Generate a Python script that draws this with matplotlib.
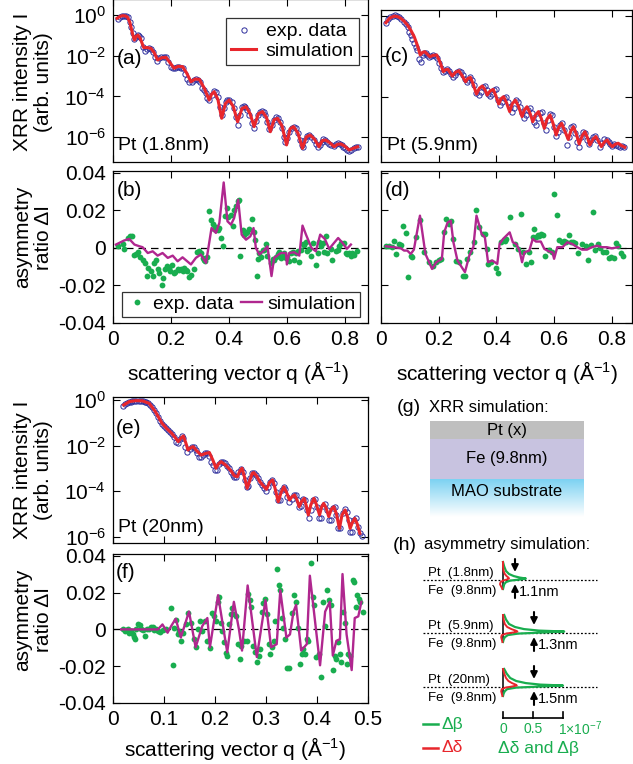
import numpy as np
import matplotlib
matplotlib.use("Agg")
import matplotlib.pyplot as plt
from matplotlib.colors import LinearSegmentedColormap
from matplotlib.ticker import FixedLocator, NullLocator, FuncFormatter

plt.rcParams['font.family'] = ['Liberation Sans', 'DejaVu Sans']
plt.rcParams['mathtext.fontset'] = 'custom'
plt.rcParams['mathtext.rm'] = 'Liberation Sans'
plt.rcParams['mathtext.it'] = 'Liberation Sans:italic'
plt.rcParams['mathtext.bf'] = 'Liberation Sans:bold'
plt.rcParams['axes.unicode_minus'] = False

# ---- XRR data: (q in 1/A, log10 intensity) ----
exp_a = [(0.016,-0.20),(0.023,-0.08),(0.030,-0.03),(0.037,-0.03),(0.044,-0.05),(0.051,-0.11),(0.057,-0.33),(0.062,-0.57),(0.068,-0.90),(0.074,-1.20),
         (0.079,-1.10),(0.085,-0.98),(0.091,-1.03),(0.097,-1.15),(0.103,-1.59),(0.110,-1.75),(0.117,-1.69),(0.124,-1.61),(0.131,-1.69),(0.138,-1.80),
         (0.145,-2.08),(0.152,-2.25),(0.159,-2.13),(0.166,-2.08),(0.175,-2.05),(0.183,-2.08),(0.191,-2.30),(0.200,-2.54),(0.207,-2.62),(0.214,-2.62),
         (0.221,-2.54),(0.228,-2.54),(0.234,-2.59),(0.241,-2.62),(0.248,-2.90),(0.255,-3.16),(0.263,-3.28),(0.271,-3.28),(0.278,-3.20),(0.285,-3.15),
         (0.292,-3.20),(0.299,-3.28),(0.306,-3.61),(0.313,-3.69),(0.320,-3.85),(0.326,-4.10),(0.333,-4.18),(0.340,-3.93),(0.347,-3.72),(0.354,-3.77),
         (0.361,-4.02),(0.368,-4.51),(0.375,-4.92),(0.382,-4.59),(0.389,-4.26),(0.395,-4.18),(0.402,-4.18),(0.409,-4.26),(0.416,-4.59),(0.423,-5.00),
         (0.430,-5.41),(0.437,-4.92),(0.444,-4.54),(0.451,-4.48),(0.457,-4.51),(0.464,-4.67),(0.471,-4.92),(0.478,-5.33),(0.485,-5.54),(0.492,-5.20),
         (0.499,-4.92),(0.506,-4.75),(0.513,-4.70),(0.520,-4.75),(0.526,-4.92),(0.533,-5.25),(0.540,-5.62),(0.547,-5.41),(0.554,-5.16),(0.561,-5.03),
         (0.568,-5.08),(0.575,-5.25),(0.582,-5.57),(0.589,-5.98),(0.595,-6.23),(0.602,-6.07),(0.609,-5.74),(0.616,-5.57),(0.623,-5.49),(0.630,-5.57),
         (0.637,-5.82),(0.644,-6.15),(0.651,-6.39),(0.657,-6.48),(0.664,-6.15),(0.671,-5.95),(0.678,-5.90),(0.685,-5.98),(0.692,-6.15),(0.699,-6.34),
         (0.706,-6.48),(0.713,-6.39),(0.720,-6.23),(0.726,-6.11),(0.733,-6.15),(0.740,-6.23),(0.747,-6.34),(0.754,-6.39),(0.761,-6.44),(0.768,-6.34),
         (0.775,-6.31),(0.782,-6.34),(0.789,-6.39),(0.795,-6.48),(0.802,-6.56),(0.809,-6.64),(0.816,-6.67),(0.823,-6.64),(0.830,-6.56),(0.837,-6.51),
         (0.844,-6.51)]
sim_a = [(0.014,-0.16),(0.025,-0.06),(0.033,-0.03),(0.042,-0.04),(0.050,-0.10),(0.058,-0.35),(0.068,-0.95),(0.074,-1.23),(0.080,-1.05),(0.086,-0.98),
         (0.094,-1.15),(0.106,-1.60),(0.118,-1.60),(0.131,-1.64),(0.142,-1.85),(0.154,-2.21),(0.168,-2.10),(0.183,-2.08),(0.197,-2.35),(0.211,-2.62),
         (0.225,-2.52),(0.240,-2.54),(0.254,-2.85),(0.269,-3.28),(0.283,-3.15),(0.298,-3.16),(0.315,-3.60),(0.332,-4.18),(0.340,-3.90),(0.349,-3.77),
         (0.362,-4.15),(0.375,-5.08),(0.388,-4.35),(0.401,-4.18),(0.415,-4.50),(0.430,-5.25),(0.445,-4.60),(0.459,-4.51),(0.473,-4.85),(0.487,-5.49),
         (0.502,-4.85),(0.516,-4.75),(0.530,-5.05),(0.543,-5.74),(0.556,-5.15),(0.568,-5.08),(0.583,-5.45),(0.599,-6.39),(0.611,-5.60),(0.623,-5.49),
         (0.638,-5.80),(0.654,-6.56),(0.667,-6.00),(0.680,-5.90),(0.695,-6.10),(0.711,-6.48),(0.722,-6.18),(0.734,-6.15),(0.748,-6.28),(0.763,-6.48),
         (0.775,-6.36),(0.786,-6.34),(0.800,-6.45),(0.815,-6.64),(0.830,-6.55),(0.844,-6.48)]

exp_c = [(0.017,-0.36),(0.025,-0.17),(0.032,-0.03),(0.040,0.00),(0.048,0.03),(0.055,0.00),(0.063,-0.07),(0.071,-0.17),(0.078,-0.28),(0.086,-0.40),
         (0.092,-0.53),(0.098,-0.78),(0.103,-0.94),(0.109,-1.16),(0.115,-1.32),(0.121,-1.52),(0.126,-1.69),(0.132,-2.15),(0.138,-2.26),(0.144,-1.93),
         (0.149,-1.82),(0.155,-1.85),(0.161,-1.93),(0.167,-2.02),(0.172,-1.98),(0.180,-1.93),(0.187,-1.98),(0.195,-2.10),(0.201,-2.35),(0.207,-2.60),
         (0.214,-2.76),(0.221,-2.73),(0.228,-2.64),(0.234,-2.71),(0.241,-2.88),(0.248,-3.01),(0.255,-2.93),(0.262,-2.76),(0.269,-2.71),(0.276,-2.76),
         (0.283,-2.93),(0.290,-3.14),(0.297,-3.26),(0.303,-3.17),(0.310,-3.04),(0.317,-3.17),(0.324,-3.42),(0.331,-3.80),(0.338,-3.92),(0.345,-3.75),
         (0.352,-3.54),(0.359,-3.47),(0.366,-3.67),(0.372,-3.87),(0.379,-3.97),(0.386,-3.87),(0.393,-3.67),(0.400,-3.64),(0.407,-4.17),(0.414,-4.41),
         (0.421,-4.25),(0.428,-4.08),(0.434,-4.00),(0.441,-4.25),(0.448,-4.50),(0.455,-4.74),(0.462,-4.58),(0.469,-4.17),(0.476,-4.25),(0.483,-4.50),
         (0.490,-4.83),(0.497,-5.07),(0.503,-4.91),(0.510,-4.66),(0.517,-4.58),(0.524,-4.83),(0.531,-5.24),(0.538,-5.40),(0.545,-5.07),(0.552,-4.83),
         (0.559,-4.74),(0.566,-5.32),(0.572,-5.65),(0.579,-5.16),(0.586,-4.86),(0.593,-4.91),(0.600,-5.49),(0.607,-5.95),(0.614,-5.74),(0.621,-5.40),
         (0.628,-5.29),(0.634,-5.65),(0.646,-6.40),(0.653,-5.98),(0.660,-5.52),(0.667,-5.45),(0.674,-5.82),(0.680,-6.23),(0.687,-6.48),(0.694,-5.98),
         (0.701,-5.74),(0.708,-5.82),(0.715,-6.15),(0.722,-6.35),(0.729,-6.15),(0.736,-6.02),(0.743,-5.95),(0.749,-6.15),(0.759,-6.48),(0.766,-6.28),
         (0.772,-6.12),(0.782,-6.15),(0.789,-6.23),(0.795,-6.35),(0.802,-6.45),(0.809,-6.35),(0.816,-6.40),(0.823,-6.45),(0.830,-6.48),(0.837,-6.45),
         (0.844,-6.51)]
sim_c = [(0.017,-0.33),(0.030,-0.10),(0.046,0.00),(0.058,-0.03),(0.069,-0.12),(0.080,-0.25),(0.092,-0.45),(0.104,-0.72),(0.115,-1.02),(0.126,-1.45),
         (0.136,-1.93),(0.144,-1.80),(0.152,-1.77),(0.161,-1.90),(0.170,-2.02),(0.180,-1.95),(0.193,-1.93),(0.205,-2.30),(0.216,-2.76),(0.224,-2.66),
         (0.232,-2.64),(0.240,-2.82),(0.247,-2.98),(0.257,-2.80),(0.270,-2.71),(0.281,-2.95),(0.293,-3.26),(0.301,-3.10),(0.310,-3.04),(0.320,-3.40),
         (0.331,-3.87),(0.341,-3.58),(0.351,-3.47),(0.360,-3.65),(0.368,-3.92),(0.378,-3.72),(0.389,-3.64),(0.398,-3.95),(0.408,-4.36),(0.416,-4.10),
         (0.425,-4.00),(0.435,-4.30),(0.446,-4.74),(0.455,-4.35),(0.466,-4.17),(0.477,-4.50),(0.489,-4.99),(0.497,-4.65),(0.506,-4.50),(0.516,-4.80),
         (0.526,-5.24),(0.536,-4.90),(0.546,-4.74),(0.556,-5.10),(0.566,-5.57),(0.576,-5.10),(0.586,-4.91),(0.597,-5.35),(0.607,-5.90),(0.616,-5.52),
         (0.626,-5.32),(0.637,-5.70),(0.649,-6.12),(0.658,-5.70),(0.667,-5.49),(0.677,-5.85),(0.687,-6.35),(0.697,-5.95),(0.707,-5.74),(0.716,-6.05),
         (0.724,-6.40),(0.735,-6.10),(0.745,-5.98),(0.755,-6.25),(0.764,-6.48),(0.774,-6.25),(0.784,-6.15),(0.793,-6.35),(0.802,-6.48),(0.812,-6.36),
         (0.822,-6.31),(0.833,-6.42),(0.845,-6.51)]

exp_e = [(0.019,-0.25),(0.023,-0.18),(0.027,-0.12),(0.031,-0.09),(0.035,-0.07),(0.038,-0.06),(0.042,-0.04),(0.046,-0.04),(0.050,-0.04),(0.054,-0.04),
         (0.058,-0.06),(0.062,-0.07),(0.065,-0.10),(0.069,-0.13),(0.073,-0.20),(0.077,-0.32),(0.081,-0.44),(0.085,-0.59),(0.088,-0.76),(0.092,-0.91),
         (0.096,-1.05),(0.100,-1.14),(0.104,-1.24),(0.108,-1.32),(0.112,-1.42),(0.115,-1.51),(0.119,-1.64),(0.123,-1.83),(0.127,-1.87),(0.131,-1.73),
         (0.135,-1.58),(0.138,-1.68),(0.142,-2.05),(0.146,-2.27),(0.150,-2.17),(0.154,-2.05),(0.158,-2.08),(0.162,-2.20),(0.165,-2.34),(0.169,-2.49),
         (0.173,-2.49),(0.177,-2.42),(0.181,-2.34),(0.185,-2.34),(0.188,-2.46),(0.192,-2.71),(0.196,-2.86),(0.200,-3.07),(0.204,-3.07),(0.208,-2.81),
         (0.212,-2.71),(0.215,-2.71),(0.219,-2.78),(0.223,-2.90),(0.227,-3.00),(0.231,-3.15),(0.235,-3.29),(0.238,-3.40),(0.242,-3.40),(0.246,-3.15),
         (0.250,-3.05),(0.254,-3.15),(0.258,-3.51),(0.262,-3.84),(0.265,-3.78),(0.269,-3.44),(0.273,-3.22),(0.277,-3.19),(0.281,-3.29),(0.285,-3.44),
         (0.288,-3.59),(0.292,-3.73),(0.296,-3.88),(0.300,-3.98),(0.304,-3.84),(0.308,-3.59),(0.312,-3.51),(0.315,-3.66),(0.319,-4.03),(0.323,-4.39),
         (0.327,-4.39),(0.331,-3.95),(0.335,-3.81),(0.338,-3.92),(0.342,-4.25),(0.346,-4.47),(0.350,-4.36),(0.354,-4.17),(0.358,-4.17),(0.362,-4.39),
         (0.365,-4.69),(0.369,-4.66),(0.373,-4.36),(0.377,-4.39),(0.381,-4.83),(0.385,-5.20),(0.388,-4.83),(0.392,-4.39),(0.396,-4.36),(0.400,-4.69),
         (0.404,-5.20),(0.408,-5.20),(0.412,-4.66),(0.415,-4.57),(0.419,-4.83),(0.423,-5.27),(0.427,-5.27),(0.431,-4.76),(0.435,-4.71),(0.438,-5.05),
         (0.442,-5.64),(0.446,-5.64),(0.450,-4.98),(0.454,-4.80),(0.458,-4.90),(0.462,-5.27),(0.465,-5.78),(0.469,-5.78),(0.473,-5.27),(0.477,-5.20),
         (0.481,-5.56),(0.485,-5.86),(0.488,-5.97)]
sim_e = [(0.021,-0.22),(0.032,-0.07),(0.045,-0.03),(0.058,-0.04),(0.071,-0.15),(0.083,-0.51),(0.096,-1.02),(0.106,-1.27),(0.115,-1.46),(0.122,-1.65),
         (0.128,-1.83),(0.133,-1.68),(0.138,-1.58),(0.143,-1.90),(0.147,-2.20),(0.152,-2.10),(0.157,-2.05),(0.165,-2.25),(0.173,-2.42),(0.181,-2.35),
         (0.189,-2.31),(0.196,-2.65),(0.202,-3.00),(0.207,-2.80),(0.212,-2.71),(0.222,-2.88),(0.231,-3.10),(0.238,-3.33),(0.244,-3.37),(0.249,-3.10),
         (0.253,-3.00),(0.258,-3.40),(0.263,-3.88),(0.268,-3.55),(0.273,-3.22),(0.276,-3.19),(0.282,-3.35),(0.288,-3.59),(0.295,-3.78),(0.301,-3.92),
         (0.307,-3.62),(0.313,-3.51),(0.318,-3.90),(0.324,-4.47),(0.329,-4.10),(0.335,-3.81),(0.341,-4.10),(0.346,-4.39),(0.351,-4.25),(0.356,-4.17),
         (0.361,-4.40),(0.365,-4.69),(0.370,-4.45),(0.375,-4.32),(0.379,-4.65),(0.383,-5.05),(0.388,-4.60),(0.394,-4.32),(0.399,-4.60),(0.405,-5.05),
         (0.409,-4.70),(0.413,-4.54),(0.418,-4.75),(0.423,-5.12),(0.428,-4.80),(0.433,-4.69),(0.438,-5.00),(0.444,-5.64),(0.449,-5.05),(0.455,-4.83),
         (0.460,-5.15),(0.465,-5.64),(0.469,-5.40),(0.474,-5.20),(0.479,-5.45),(0.484,-5.86)]

# ---- asymmetry data: (q, Delta I) ----
exp_b = [(0.016,0.0012),(0.033,0.0021),(0.037,-0.0005),(0.051,0.0053),(0.060,0.0062),(0.064,0.0065),(0.074,-0.0035),(0.079,-0.0030),(0.085,-0.0023),(0.094,-0.0050),
         (0.102,-0.0062),(0.110,-0.0080),(0.117,-0.0147),(0.122,-0.0106),(0.131,-0.0124),(0.137,-0.0150),(0.143,-0.0080),(0.149,-0.0065),(0.154,-0.0112),(0.160,-0.0133),
         (0.168,-0.0200),(0.174,-0.0159),(0.179,-0.0112),(0.185,-0.0094),(0.192,-0.0106),(0.198,-0.0124),(0.203,-0.0089),(0.209,-0.0133),(0.215,-0.0129),(0.223,-0.0112),
         (0.229,-0.0119),(0.234,-0.0112),(0.240,-0.0124),(0.246,-0.0106),(0.252,-0.0115),(0.257,-0.0124),(0.263,-0.0154),(0.269,-0.0142),(0.278,-0.0112),(0.290,-0.0023),
         (0.298,-0.0018),(0.303,-0.0027),(0.309,-0.0053),(0.313,-0.0062),(0.317,-0.0071),(0.326,-0.0048),(0.332,0.0195),(0.338,0.0147),(0.344,0.0127),(0.349,0.0101),
         (0.355,0.0112),(0.361,0.0097),(0.367,0.0106),(0.372,0.0053),(0.378,0.0012),(0.386,0.0168),(0.393,0.0212),(0.398,0.0165),(0.407,0.0177),(0.413,0.0119),
         (0.418,0.0204),(0.424,0.0221),(0.430,0.0248),(0.436,0.0253),(0.439,-0.0044),(0.447,0.0097),(0.453,0.0071),(0.459,0.0080),(0.464,0.0083),(0.470,0.0101),
         (0.478,0.0154),(0.485,0.0083),(0.490,0.0041),(0.497,-0.0150),(0.499,-0.0058),(0.505,-0.0027),(0.510,-0.0050),(0.516,-0.0012),(0.522,-0.0012),(0.528,0.0023),
         (0.533,-0.0044),(0.545,-0.0080),(0.551,-0.0058),(0.556,-0.0062),(0.562,-0.0048),(0.568,-0.0030),(0.574,-0.0023),(0.579,-0.0053),(0.585,-0.0044),(0.591,-0.0027),
         (0.597,-0.0053),(0.602,-0.0048),(0.608,-0.0071),(0.614,-0.0027),(0.620,-0.0023),(0.625,-0.0062),(0.631,-0.0027),(0.637,-0.0018),(0.643,-0.0076),(0.648,-0.0009),
         (0.654,0.0019),(0.660,0.0018),(0.666,0.0030),(0.671,-0.0018),(0.677,-0.0005),(0.683,-0.0044),(0.689,0.0027),(0.700,-0.0089),(0.706,-0.0027),(0.711,0.0030),
         (0.717,0.0012),(0.723,0.0027),(0.729,-0.0023),(0.734,0.0065),(0.740,-0.0027),(0.752,-0.0005),(0.757,-0.0062),(0.769,-0.0018),(0.775,-0.0009),(0.780,0.0012),
         (0.786,0.0027),(0.798,0.0027),(0.803,-0.0027),(0.809,-0.0030),(0.815,-0.0027),(0.821,-0.0041),(0.826,-0.0027),(0.832,-0.0035),(0.841,-0.0018)]
sim_b = [(0.010,0.0018),(0.039,0.0040),(0.056,0.0048),(0.074,0.0018),(0.091,0.0009),(0.102,0.0004),(0.120,-0.0027),(0.137,-0.0018),(0.154,-0.0041),(0.171,-0.0027),
         (0.189,-0.0053),(0.206,-0.0041),(0.223,-0.0071),(0.240,-0.0050),(0.269,-0.0088),(0.286,-0.0053),(0.303,-0.0035),(0.321,-0.0080),(0.340,0.0106),(0.355,0.0080),
         (0.367,0.0133),(0.382,0.0349),(0.395,0.0142),(0.407,0.0124),(0.418,0.0159),(0.432,0.0257),(0.444,0.0071),(0.459,0.0044),(0.474,0.0062),(0.485,0.0106),
         (0.493,0.0000),(0.505,-0.0035),(0.522,-0.0012),(0.533,0.0009),(0.547,-0.0150),(0.556,-0.0053),(0.579,-0.0027),(0.597,-0.0027),(0.600,-0.0088),(0.608,-0.0027),
         (0.625,-0.0023),(0.643,-0.0041),(0.654,0.0119),(0.666,0.0071),(0.685,0.0000),(0.700,-0.0018),(0.715,0.0071),(0.731,0.0048),(0.746,-0.0005),(0.763,0.0027),
         (0.777,0.0053),(0.792,0.0027),(0.807,-0.0005),(0.821,0.0018)]

exp_d = [(0.017,0.0012),(0.029,0.0012),(0.037,0.0004),(0.046,0.0039),(0.051,-0.0032),(0.063,0.0021),(0.071,0.0016),(0.077,0.0119),(0.086,0.0078),(0.094,-0.0156),
         (0.103,-0.0041),(0.109,-0.0050),(0.123,0.0057),(0.135,0.0150),(0.149,-0.0019),(0.166,-0.0073),(0.181,-0.0097),(0.189,-0.0076),(0.200,-0.0062),(0.208,-0.0058),
         (0.217,0.0083),(0.226,0.0154),(0.234,0.0127),(0.242,0.0145),(0.249,0.0048),(0.261,-0.0067),(0.269,-0.0073),(0.283,-0.0150),(0.291,-0.0147),(0.297,-0.0058),
         (0.309,-0.0023),(0.322,0.0030),(0.331,0.0202),(0.341,0.0110),(0.354,0.0074),(0.360,0.0074),(0.366,-0.0005),(0.371,-0.0085),(0.383,-0.0076),(0.398,-0.0108),
         (0.406,-0.0135),(0.417,0.0030),(0.429,0.0039),(0.434,0.0048),(0.446,0.0163),(0.463,0.0021),(0.474,-0.0005),(0.486,0.0181),(0.491,-0.0023),(0.503,-0.0085),
         (0.512,-0.0023),(0.520,-0.0076),(0.526,0.0057),(0.531,0.0101),(0.537,0.0057),(0.543,0.0069),(0.549,0.0065),(0.554,0.0074),(0.560,0.0069),(0.569,-0.0041),
         (0.583,-0.0009),(0.592,-0.0023),(0.600,0.0287),(0.611,0.0175),(0.617,0.0042),(0.626,0.0030),(0.634,0.0039),(0.642,0.0030),(0.651,0.0069),(0.657,0.0034),
         (0.665,0.0030),(0.674,0.0027),(0.683,-0.0027),(0.697,0.0021),(0.709,0.0012),(0.718,-0.0062),(0.729,0.0016),(0.734,0.0189),(0.743,-0.0009),(0.752,0.0021),
         (0.760,-0.0002),(0.771,-0.0023),(0.779,-0.0019),(0.791,-0.0055),(0.798,-0.0050),(0.806,-0.0055),(0.814,0.0027),(0.823,0.0012),(0.832,-0.0027),(0.840,-0.0041)]
sim_d = [(0.017,0.0009),(0.046,0.0004),(0.069,-0.0002),(0.080,-0.0014),(0.091,-0.0014),(0.103,-0.0032),(0.114,-0.0009),(0.135,0.0172),(0.154,-0.0032),(0.177,-0.0112),
         (0.192,-0.0076),(0.211,-0.0058),(0.219,0.0083),(0.231,0.0136),(0.242,0.0145),(0.251,0.0030),(0.265,-0.0067),(0.291,-0.0129),(0.306,-0.0041),(0.320,0.0004),
         (0.331,0.0172),(0.349,0.0074),(0.360,0.0057),(0.371,-0.0076),(0.386,-0.0067),(0.403,-0.0085),(0.411,0.0021),(0.423,0.0048),(0.446,0.0083),(0.457,0.0030),
         (0.469,0.0021),(0.480,-0.0014),(0.489,-0.0076),(0.497,-0.0023),(0.514,-0.0014),(0.526,0.0048),(0.537,0.0034),(0.554,0.0034),(0.566,-0.0005),(0.583,-0.0019),
         (0.594,-0.0023),(0.600,-0.0058),(0.611,0.0004),(0.629,0.0004),(0.646,0.0030),(0.663,0.0021),(0.680,0.0004),(0.697,-0.0009),(0.714,-0.0009),(0.731,0.0004),
         (0.749,0.0012),(0.766,0.0004),(0.783,0.0004),(0.800,-0.0002),(0.823,0.0004)]

exp_f = [(0.019,0.0005),(0.023,-0.0009),(0.026,-0.0005),(0.029,0.0000),(0.032,-0.0018),(0.036,-0.0009),(0.039,-0.0027),(0.041,-0.0041),(0.044,-0.0053),(0.045,0.0005),
         (0.049,0.0030),(0.052,0.0023),(0.055,0.0005),(0.058,-0.0005),(0.063,-0.0035),(0.067,0.0005),(0.071,0.0005),(0.075,0.0012),(0.078,0.0012),(0.081,-0.0005),
         (0.084,0.0005),(0.088,-0.0009),(0.093,-0.0012),(0.099,-0.0005),(0.104,0.0005),(0.114,0.0115),(0.117,-0.0195),(0.120,0.0009),(0.123,0.0053),(0.127,-0.0027),
         (0.130,-0.0009),(0.133,-0.0065),(0.138,-0.0018),(0.143,0.0027),(0.147,0.0089),(0.153,0.0035),(0.158,-0.0053),(0.162,-0.0094),(0.167,0.0005),(0.171,0.0044),
         (0.175,-0.0009),(0.180,0.0044),(0.185,-0.0062),(0.190,-0.0101),(0.195,0.0089),(0.198,0.0071),(0.201,0.0048),(0.205,0.0150),(0.208,0.0177),(0.211,0.0035),
         (0.214,-0.0009),(0.218,-0.0071),(0.221,-0.0129),(0.224,-0.0142),(0.227,0.0027),(0.231,0.0083),(0.234,0.0115),(0.237,0.0083),(0.241,0.0071),(0.245,-0.0080),
         (0.249,-0.0159),(0.251,-0.0089),(0.256,-0.0062),(0.262,-0.0062),(0.264,0.0195),(0.268,0.0159),(0.271,0.0124),(0.275,-0.0089),(0.279,-0.0124),(0.282,-0.0177),
         (0.286,-0.0142),(0.289,-0.0106),(0.292,0.0097),(0.295,0.0142),(0.299,0.0168),(0.302,0.0083),(0.305,-0.0080),(0.308,-0.0133),(0.312,-0.0097),(0.315,-0.0062),
         (0.318,0.0044),(0.321,0.0327),(0.325,0.0239),(0.328,0.0212),(0.331,0.0062),(0.334,0.0009),(0.338,-0.0053),(0.342,-0.0212),(0.346,-0.0212),(0.351,0.0089),
         (0.354,0.0186),(0.358,0.0150),(0.362,0.0009),(0.367,-0.0186),(0.370,-0.0133),(0.373,-0.0106),(0.377,-0.0133),(0.380,-0.0053),(0.383,-0.0062),(0.388,0.0363),
         (0.392,0.0177),(0.394,0.0133),(0.398,-0.0150),(0.403,-0.0133),(0.407,-0.0257),(0.411,0.0150),(0.416,0.0018),(0.420,0.0212),(0.424,0.0159),(0.427,0.0133),
         (0.431,-0.0221),(0.435,-0.0142),(0.438,-0.0159),(0.442,-0.0071),(0.445,-0.0133),(0.448,-0.0177),(0.451,0.0097),(0.455,0.0035),(0.458,-0.0186),(0.461,-0.0133),
         (0.464,-0.0142),(0.471,0.0266),(0.472,0.0257),(0.476,0.0124),(0.479,0.0186),(0.482,0.0168),(0.485,0.0150),(0.490,0.0097)]
sim_f = [(0.016,0.0000),(0.042,0.0000),(0.068,0.0000),(0.088,0.0000),(0.097,0.0027),(0.107,-0.0018),(0.114,0.0018),(0.123,0.0058),(0.133,-0.0044),(0.149,0.0097),
         (0.162,-0.0097),(0.175,0.0018),(0.185,0.0062),(0.190,-0.0097),(0.206,0.0186),(0.224,-0.0124),(0.237,0.0150),(0.247,0.0000),(0.253,-0.0115),(0.264,0.0239),
         (0.282,-0.0150),(0.299,0.0159),(0.310,-0.0097),(0.321,-0.0080),(0.328,0.0212),(0.340,-0.0044),(0.347,-0.0027),(0.354,0.0097),(0.359,0.0133),(0.369,-0.0115),
         (0.380,-0.0080),(0.386,0.0292),(0.406,-0.0195),(0.416,0.0097),(0.425,0.0150),(0.431,-0.0142),(0.438,-0.0062),(0.445,-0.0053),(0.450,0.0301),(0.458,-0.0027),
         (0.468,-0.0221),(0.474,0.0062),(0.481,0.0071),(0.487,0.0150)]

# ---- interface profiles for (h): depth (nm), delta-beta / delta-delta (1e-7) ----
depth_nm = [-6.0, -4.5, -3.0, -2.0, -1.3, -0.8, -0.5, -0.2, 0.2, 0.7, 1.4, 2.2, 3.0]
dbeta_18 = [0.00, 0.02, 0.05, 0.10, 0.18, 0.28, 0.38, 0.30, 0.12, 0.05, 0.02, 0.01, 0.00]
ddelta_18 = [0.00, 0.00, 0.01, 0.03, 0.06, 0.09, 0.10, 0.07, 0.00, -0.04, -0.05, -0.03, -0.01]
dbeta_59 = [0.02, 0.05, 0.10, 0.20, 0.35, 0.60, 1.02, 0.70, 0.25, 0.08, 0.03, 0.01, 0.00]
ddelta_59 = [0.00, 0.01, 0.03, 0.07, 0.14, 0.21, 0.24, 0.18, 0.05, -0.02, -0.03, -0.02, -0.01]
dbeta_20 = [0.02, 0.06, 0.12, 0.22, 0.38, 0.62, 1.00, 0.68, 0.22, 0.07, 0.03, 0.01, 0.00]
ddelta_20 = [0.00, 0.02, 0.05, 0.09, 0.15, 0.21, 0.23, 0.16, 0.04, -0.02, -0.03, -0.02, -0.01]
pt_labels = ['Pt  (1.8nm)', 'Pt  (5.9nm)', 'Pt  (20nm)']
width_labels = ['1.1nm', '1.3nm', '1.5nm']

BLUE = '#2e2e9c'
RED = '#e8262c'
GREEN = '#19ad4f'
PURPLE = '#b0278f'

W, H = 633, 764
fig = plt.figure(figsize=(W / 100, H / 100), dpi=100)


def px_axes(left, top, right, bottom):
    return fig.add_axes([left / W, 1 - bottom / H, (right - left) / W, (bottom - top) / H])


def style(ax):
    ax.tick_params(direction='in', length=5, width=0.8, top=True, right=True,
                   labelsize=15, pad=5)
    for s in ax.spines.values():
        s.set_linewidth(0.9)


def xrr(ax, exp, sim, xmax, ylo, yhi, ylabels=True):
    q, l = np.array(exp).T
    qs, ls = np.array(sim).T
    ax.semilogy(q, 10 ** l, 'o', mfc='none', mec=BLUE, ms=3.8, mew=0.7,
                label='exp. data', zorder=2)
    ax.semilogy(qs, 10 ** ls, '-', color=RED, lw=2.2, label='simulation', zorder=3)
    ax.set_xlim(0, xmax)
    ax.set_ylim(10 ** ylo, 10 ** yhi)
    ax.yaxis.set_major_locator(FixedLocator([1, 1e-2, 1e-4, 1e-6]))
    ax.yaxis.set_minor_locator(NullLocator())
    ax.yaxis.set_major_formatter(FuncFormatter(lambda v, p: r'$10^{%d}$' % round(np.log10(v))))
    style(ax)
    ax.tick_params(labelbottom=False, labelleft=ylabels)


def asym(ax, exp, sim, xmax, ticks, ylabels=True):
    q, v = np.array(exp).T
    qs, vs = np.array(sim).T
    ax.plot(q, v, 'o', color=GREEN, mec='none', ms=4.2, label='exp. data', zorder=2)
    ax.plot(qs, vs, '-', color=PURPLE, lw=1.7, label='simulation', zorder=3)
    ax.axhline(0, color='k', lw=0.9, ls=(0, (6, 4)), zorder=1)
    ax.set_xlim(0, xmax)
    ax.set_ylim(-0.04, 0.041)
    ax.set_yticks([-0.04, -0.02, 0, 0.02, 0.04])
    ax.set_yticklabels(['-0.04', '-0.02', '0', '0.02', '0.04'])
    ax.set_xticks(ticks)
    ax.set_xticklabels(['0' if t == 0 else ('%g' % t) for t in ticks])
    style(ax)
    ax.tick_params(labelleft=ylabels)


ax_a = px_axes(113, -1, 368, 162)
xrr(ax_a, exp_a, sim_a, 0.88, -7.23, 0.79)
ax_a.set_xticks([0, 0.2, 0.4, 0.6, 0.8])
leg = ax_a.legend(loc='upper right', bbox_to_anchor=((359 - 113) / 255, 1 - 19 / 163),
                  borderaxespad=0, fancybox=False, edgecolor='k', fontsize=14,
                  handlelength=1.3, borderpad=0.25, labelspacing=0.1, handletextpad=0.5)
leg.get_frame().set_linewidth(0.9)

ax_c = px_axes(381, 10, 632, 162)
xrr(ax_c, exp_c, sim_c, 0.87, -7.24, 0.30, ylabels=False)
ax_c.set_xticks([0, 0.2, 0.4, 0.6, 0.8])

ax_b = px_axes(113, 171, 368, 323)
asym(ax_b, exp_b, sim_b, 0.88, [0, 0.2, 0.4, 0.6, 0.8])
leg = ax_b.legend(loc='lower left', bbox_to_anchor=((122 - 113) / 255, 6 / 152),
                  borderaxespad=0, fancybox=False, edgecolor='k', fontsize=14, ncol=2,
                  handlelength=1.1, borderpad=0.2, handletextpad=0.3, columnspacing=0.35)
leg.get_frame().set_linewidth(0.9)

ax_d = px_axes(381, 171, 632, 323)
asym(ax_d, exp_d, sim_d, 0.87, [0, 0.2, 0.4, 0.6, 0.8], ylabels=False)

ax_e = px_axes(113, 397, 368, 543)
xrr(ax_e, exp_e, sim_e, 0.5, -6.28, 0.13)
ax_e.set_xticks([0, 0.1, 0.2, 0.3, 0.4, 0.5])

ax_f = px_axes(113, 554, 368, 703)
asym(ax_f, exp_f, sim_f, 0.5, [0, 0.1, 0.2, 0.3, 0.4, 0.5])

# ---- overlay in pixel coordinates for labels and the (g)/(h) sketches ----
ov = fig.add_axes([0, 0, 1, 1], zorder=10)
ov.patch.set_visible(False)
ov.axis('off')

ylab = dict(rotation=90, ha='center', va='center', fontsize=15, linespacing=1.15)
ov.text(33, 82, 'XRR intensity I\n(arb. units)', **ylab)
ov.text(33, 470, 'XRR intensity I\n(arb. units)', **ylab)
ov.text(33, 237, 'asymmetry\nratio \u0394I', **ylab)
ov.text(33, 620, 'asymmetry\nratio \u0394I', **ylab)
xl = r'scattering vector q ($\mathrm{\AA}^{-1}$)'
ov.text(238, 372, xl, ha='center', va='center', fontsize=15)
ov.text(507, 372, xl, ha='center', va='center', fontsize=15)
ov.text(235, 748, xl, ha='center', va='center', fontsize=15)

for x, y, s in [(117, 59, '(a)'), (117, 190, '(b)'), (385, 57, '(c)'), (385, 191, '(d)'),
                (116, 428, '(e)'), (116, 572, '(f)')]:
    ov.text(x, y, s, ha='left', va='center', fontsize=15)
for x, y, s in [(118, 145, 'Pt (1.8nm)'), (387, 146, 'Pt (5.9nm)'), (118, 527, 'Pt (20nm)')]:
    ov.text(x, y, s, ha='left', va='center', fontsize=14)

# (g) layer stack
ov.text(397, 408, '(g)', ha='left', va='center', fontsize=14)
ov.text(429, 408, 'XRR simulation:', ha='left', va='center', fontsize=12)
ov.add_patch(plt.Rectangle((430, 421), 154, 18, color='#bfbfbf', lw=0))
ov.add_patch(plt.Rectangle((430, 439), 154, 40, color='#c8c3e0', lw=0))
mao = LinearSegmentedColormap.from_list('mao', ['#7dd2f2', '#ffffff'])
ov.imshow(np.linspace(0, 1, 60).reshape(-1, 1), cmap=mao, aspect='auto',
          extent=(430, 584, 517, 479), interpolation='bilinear', zorder=1)
ov.text(507, 430, 'Pt (x)', ha='center', va='center', fontsize=12, zorder=3)
ov.text(507, 459, 'Fe (9.8nm)', ha='center', va='center', fontsize=12, zorder=3)
ov.text(507, 492, 'MAO substrate', ha='center', va='center', fontsize=12, zorder=3)

# (h) asymmetry interface sketches
ov.text(393, 545, '(h)', ha='left', va='center', fontsize=14)
ov.text(424, 545, 'asymmetry simulation:', ha='left', va='center', fontsize=12)
x0, xs, ys = 503, 60, 3.0
dep = np.array(depth_nm)
profiles = [(580, 515, dbeta_18, ddelta_18), (633, 534, dbeta_59, ddelta_59),
            (687, 534, dbeta_20, ddelta_20)]
for i, (base, xa, db, dd) in enumerate(profiles):
    ov.plot([423, 597], [base, base], color='k', lw=0.9, ls=(0, (1.5, 1.5)))
    ov.text(428, base - 7, pt_labels[i], ha='left', va='center', fontsize=9.5)
    ov.text(428, base + 11, 'Fe  (9.8nm)', ha='left', va='center', fontsize=9.5)
    ov.plot([x0, x0], [base + ys * dep[0], base + ys * dep[-1]], color='k', lw=1.1)
    ov.plot(x0 + xs * np.array(db), base + ys * dep, color=GREEN, lw=1.6)
    ov.plot(x0 + xs * np.array(dd), base + ys * dep, color=RED, lw=1.4)
    ov.annotate('', xy=(xa, base - 8), xytext=(xa, base - 21),
                arrowprops=dict(arrowstyle='-|>', color='k', lw=1.5, mutation_scale=10,
                                shrinkA=0, shrinkB=0))
    ov.annotate('', xy=(xa, base + 4), xytext=(xa, base + 18),
                arrowprops=dict(arrowstyle='-|>', color='k', lw=1.5, mutation_scale=10,
                                shrinkA=0, shrinkB=0))
    ov.text(xa + 4, base + 12, width_labels[i], ha='left', va='center', fontsize=10.5)

# scale bar
ov.plot([x0, x0 + xs], [718, 718], color='k', lw=1.2)
for t in [0, 0.5, 1.0]:
    ov.plot([x0 + xs * t] * 2, [718, 712], color='k', lw=1.2)
ov.text(x0, 729, '0', ha='center', va='center', fontsize=10, color=GREEN)
ov.text(x0 + 30, 729, '0.5', ha='center', va='center', fontsize=10, color=GREEN)
ov.text(x0 + 55, 729, r'1$\times$10$^{-7}$', ha='left', va='center', fontsize=10, color=GREEN)
ov.text(538, 748, '\u0394\u03b4 and \u0394\u03b2', ha='center', va='center', fontsize=12.5, color=GREEN)
ov.plot([423, 438], [724, 724], color=GREEN, lw=1.8)
ov.text(441, 724, '\u0394\u03b2', ha='left', va='center', fontsize=12.5, color=GREEN)
ov.plot([423, 438], [748, 748], color=RED, lw=1.8)
ov.text(441, 748, '\u0394\u03b4', ha='left', va='center', fontsize=12.5, color=RED)

ov.set_xlim(0, W)
ov.set_ylim(H, 0)

fig.savefig('out.png', dpi=100)
